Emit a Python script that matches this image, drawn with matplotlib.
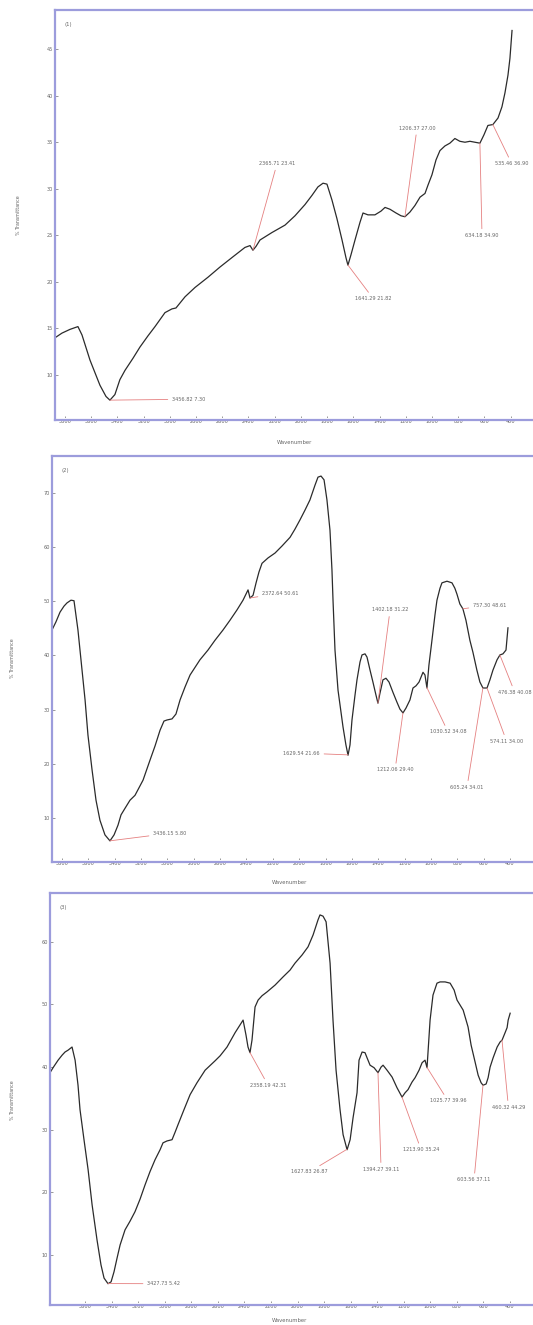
import numpy as np
import matplotlib
matplotlib.use("Agg")
import matplotlib.pyplot as plt

W, H = 533, 1325

# ---- spectrum (1) ----
wn1 = [3876, 3823, 3762, 3701, 3670, 3609, 3533, 3487, 3457, 3419, 3381, 3342, 3281, 3228,
       3167, 3113, 3037, 2984, 2953, 2884, 2808, 2709, 2617, 2518, 2427, 2388, 2366, 2343,
       2312, 2221, 2121, 2045, 1969, 1915, 1870, 1831, 1801, 1763, 1725, 1686, 1656, 1641,
       1618, 1587, 1549, 1526, 1488, 1435, 1389, 1358, 1320, 1274, 1236, 1206, 1168, 1130,
       1091, 1053, 1030, 1000, 969, 939, 901, 863, 825, 787, 748, 710, 672, 634, 603, 573,
       535, 496, 466, 443, 420, 405, 389]
t1 = [14.0, 14.5, 14.9, 15.2, 14.3, 11.6, 8.9, 7.7, 7.3, 7.9, 9.5, 10.5, 11.8, 13.0,
      14.2, 15.2, 16.7, 17.1, 17.2, 18.4, 19.4, 20.5, 21.6, 22.7, 23.7, 23.9, 23.4, 23.8,
      24.5, 25.3, 26.1, 27.1, 28.3, 29.3, 30.2, 30.6, 30.5, 28.8, 26.8, 24.5, 22.6, 21.8,
      22.9, 24.5, 26.4, 27.4, 27.2, 27.2, 27.6, 28.0, 27.8, 27.4, 27.1, 27.0, 27.5, 28.2,
      29.1, 29.5, 30.4, 31.5, 33.1, 34.1, 34.6, 34.9, 35.4, 35.1, 35.0, 35.1, 35.0, 34.9,
      35.8, 36.8, 36.9, 37.6, 38.8, 40.3, 42.2, 44.0, 47.0]
peaks1 = [3456.82, 2365.71, 1641.29, 1206.37, 634.18, 535.46]
labx1 = [2984, 2182, 1587, 1114, 618, 519]
laby1 = [7.4, 32.7, 18.2, 36.5, 25.0, 32.7]
labha1 = ["left", "center", "left", "center", "center", "left"]

# ---- spectrum (2) ----
wn2 = [3876, 3846, 3815, 3785, 3762, 3732, 3709, 3679, 3656, 3625, 3603, 3572, 3542, 3512,
       3474, 3436, 3405, 3375, 3352, 3322, 3284, 3246, 3185, 3132, 3094, 3056, 3026, 3003,
       2965, 2935, 2904, 2866, 2828, 2753, 2692, 2639, 2578, 2525, 2472, 2426, 2396, 2388,
       2373, 2350, 2327, 2305, 2282, 2236, 2183, 2130, 2069, 2032, 1994, 1956, 1918, 1880,
       1857, 1834, 1811, 1789, 1766, 1751, 1743, 1728, 1705, 1667, 1645, 1629, 1614, 1599,
       1576, 1561, 1538, 1523, 1500, 1485, 1462, 1440, 1417, 1402, 1386, 1364, 1341, 1318,
       1288, 1258, 1235, 1212, 1189, 1159, 1136, 1113, 1090, 1060, 1045, 1030, 1015, 992,
       969, 954, 931, 916, 878, 840, 818, 802, 780, 757, 734, 704, 681, 651, 628, 605, 574,
       552, 529, 498, 476, 453, 430, 415]
t2 = [44.7, 46.2, 48.0, 49.1, 49.7, 50.2, 50.1, 44.7, 39.2, 31.8, 25.3, 18.9, 13.3, 9.6,
      6.9, 5.8, 6.9, 8.7, 10.6, 11.8, 13.3, 14.2, 17.0, 20.7, 23.3, 26.2, 27.9, 28.1,
      28.3, 29.2, 31.8, 34.2, 36.4, 39.2, 41.0, 42.8, 44.7, 46.5, 48.4, 50.2, 51.7, 52.1,
      50.6, 51.1, 53.4, 55.4, 57.0, 58.0, 58.9, 60.2, 61.8, 63.3, 65.0, 66.8, 68.7, 71.4,
      72.9, 73.1, 72.4, 68.7, 63.1, 55.8, 50.2, 41.0, 33.6, 26.8, 23.5, 21.6, 23.5, 28.1,
      32.7, 35.5, 38.8, 40.1, 40.3, 39.7, 37.3, 35.1, 32.7, 31.2, 33.1, 35.5, 35.8, 35.1,
      33.2, 31.4, 30.1, 29.4, 30.3, 31.8, 34.0, 34.4, 35.1, 36.9, 36.4, 34.0, 38.2, 42.8,
      47.5, 50.2, 52.4, 53.4, 53.7, 53.4, 52.4, 51.3, 49.5, 48.6, 46.5, 42.8, 40.6, 37.3,
      35.1, 34.0, 34.0, 35.5, 37.3, 39.2, 40.1, 40.3, 41.0, 45.1]
peaks2 = [3436.15, 2372.64, 1629.54, 1402.18, 1212.06, 1030.52, 757.30, 605.24, 574.11, 476.38]
labx2 = [3109, 2282, 1842, 1310, 1272, 870, 681, 726, 552, 491]
laby2 = [7.2, 51.5, 22.0, 48.4, 18.9, 25.9, 49.3, 15.7, 24.2, 33.2]
labha2 = ["left", "left", "right", "center", "center", "center", "left", "center", "left", "left"]

# ---- spectrum (3) ----
wn3 = [3864, 3841, 3803, 3773, 3751, 3728, 3698, 3675, 3653, 3638, 3608, 3577, 3547, 3510,
       3480, 3457, 3427, 3404, 3382, 3359, 3336, 3299, 3261, 3224, 3186, 3148, 3111, 3073,
       3035, 3013, 2983, 2945, 2922, 2900, 2855, 2809, 2757, 2696, 2621, 2583, 2531, 2470,
       2410, 2388, 2373, 2358, 2343, 2320, 2297, 2267, 2230, 2169, 2109, 2056, 2019, 1966,
       1921, 1883, 1846, 1831, 1808, 1785, 1755, 1733, 1710, 1680, 1657, 1627, 1604, 1582,
       1552, 1537, 1514, 1492, 1477, 1454, 1424, 1394, 1371, 1356, 1326, 1288, 1251, 1213,
       1190, 1168, 1138, 1115, 1085, 1062, 1040, 1025, 1002, 980, 950, 927, 889, 851, 821,
       799, 776, 753, 731, 716, 693, 663, 640, 618, 603, 580, 565, 550, 527, 497, 475, 460,
       437, 422, 414, 399]
t3 = [39.1, 39.9, 41.1, 41.9, 42.4, 42.7, 43.2, 41.1, 37.1, 33.2, 28.4, 23.6, 18.0, 12.4,
      8.4, 6.3, 5.4, 5.7, 7.3, 9.5, 11.6, 14.0, 15.4, 16.9, 18.9, 21.2, 23.3, 25.2,
      26.8, 27.9, 28.2, 28.4, 29.6, 30.8, 33.2, 35.6, 37.5, 39.5, 41.0, 41.8, 43.2, 45.5,
      47.5, 45.1, 43.2, 42.3, 44.3, 49.6, 50.7, 51.4, 52.0, 53.1, 54.4, 55.5, 56.6, 57.9,
      59.2, 61.1, 63.5, 64.3, 64.1, 63.2, 56.6, 47.5, 39.5, 33.2, 29.2, 26.8, 28.4, 31.9,
      35.9, 41.1, 42.4, 42.3, 41.5, 40.3, 39.9, 39.1, 40.0, 40.3, 39.5, 38.4, 36.7, 35.2,
      35.9, 36.4, 37.6, 38.3, 39.5, 40.7, 41.1, 39.9, 47.5, 51.5, 53.4, 53.6, 53.6, 53.4, 52.3,
      50.7, 49.9, 49.1, 47.5, 46.4, 43.5, 40.8, 38.7, 37.5, 37.1, 37.3, 38.3, 40.0, 41.5, 43.2, 44.0, 44.3,
      45.5, 46.3, 47.5, 48.6]
peaks3 = [3427.73, 2358.19, 1627.83, 1394.27, 1213.90, 1025.77, 603.56, 460.32]
labx3 = [3133, 2222, 1770, 1371, 1070, 867, 671, 412]
laby3 = [5.4, 37.1, 23.3, 23.7, 26.8, 34.6, 22.0, 33.6]
labha3 = ["left", "center", "right", "center", "center", "center", "center", "center"]

xticks_full = list(range(3800, 399, -200))
xticks_short = list(range(3600, 399, -200))

SPINE = "#9c9cdc"
CURVE = "#2b2b2b"
LEAD = "#e58080"
TXT = "#666666"


def px(x, y):
    return x / W, 1 - y / H


def draw_panel(rect, wn, t, peaks, labx, laby, labha, xlim, ylim, yticks, xticks, tag):
    left, top, bottom = rect
    ax = fig.add_axes([left / W, 1 - bottom / H, 1 - left / W, (bottom - top) / H])
    ax.plot(wn, t, color=CURVE, lw=0.9)
    ax.set_xlim(*xlim)
    ax.set_ylim(*ylim)

    wn_r = np.array(wn[::-1], dtype=float)
    t_r = np.array(t[::-1], dtype=float)
    for w, tx, ty, ha in zip(peaks, labx, laby, labha):
        tp = float(np.interp(w, wn_r, t_r))
        ax.annotate(f"{w:.2f} {tp:.2f}", xy=(w, tp), xytext=(tx, ty),
                    fontsize=3.6, color=TXT, ha=ha, va="center",
                    arrowprops=dict(arrowstyle="-", color=LEAD, lw=0.6,
                                    shrinkA=1, shrinkB=0))

    for side in ["left", "top", "bottom"]:
        ax.spines[side].set_color(SPINE)
        ax.spines[side].set_linewidth(1.6)
    ax.spines["right"].set_visible(False)

    ax.set_xticks(xticks)
    ax.set_xticklabels([str(v) for v in xticks])
    ax.set_yticks(yticks)
    # x labels sit on the axis line, breaking it up
    ax.tick_params(axis="x", direction="in", length=3, width=0.6, color="#888888",
                   labelsize=3.6, labelcolor=TXT, pad=-0.5)
    ax.tick_params(axis="y", direction="in", length=2, width=0.6, color="#888888",
                   labelsize=3.6, labelcolor=TXT, pad=1.5)
    for lab in ax.get_xticklabels():
        lab.set_bbox(dict(facecolor="white", edgecolor="none", pad=0.6))
    ax.text(0.02, 0.97, tag, transform=ax.transAxes, fontsize=3.8, color=TXT,
            ha="left", va="top")
    return ax


fig = plt.figure(figsize=(W / 100, H / 100), dpi=100)
fig.patch.set_facecolor("white")

draw_panel((55, 10, 420), wn1, t1, peaks1, labx1, laby1, labha1,
           (3876, 229), (5.17, 49.2), list(range(10, 46, 5)), xticks_full, "(1)")
draw_panel((52, 456, 862), wn2, t2, peaks2, labx2, laby2, labha2,
           (3876, 225), (1.9, 76.8), list(range(10, 71, 10)), xticks_full, "(2)")
draw_panel((50, 893, 1305), wn3, t3, peaks3, labx3, laby3, labha3,
           (3864, 227), (2.0, 67.8), list(range(10, 61, 10)), xticks_short, "(3)")

for (x, y) in [(295, 442), (290, 883), (290, 1321)]:
    fig.text(*px(x, y), "Wavenumber", fontsize=3.8, color=TXT, ha="center", va="center")
for (x, y) in [(18, 215), (13, 658), (13, 1100)]:
    fig.text(*px(x, y), "% Transmittance", fontsize=3.4, color=TXT, ha="center",
             va="center", rotation=90)

fig.savefig("out.png", dpi=100, facecolor="white")
